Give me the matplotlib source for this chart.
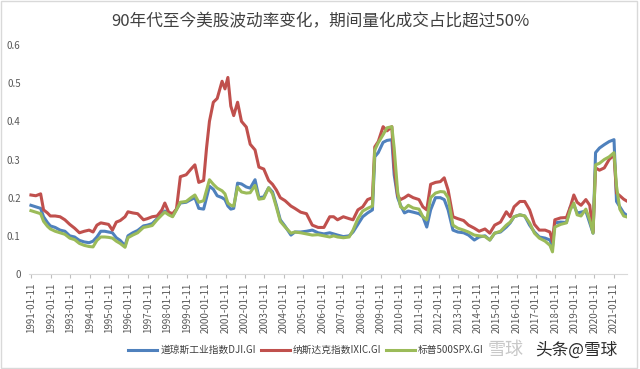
import matplotlib
matplotlib.use("Agg")
import matplotlib.pyplot as plt
from matplotlib.patches import Rectangle
import numpy as np

# decimal years
dates = [
    1991.00, 1991.25, 1991.50, 1991.65, 1991.85,
    1992.00, 1992.25, 1992.50, 1992.75, 1993.00, 1993.25, 1993.50, 1993.75,
    1994.00, 1994.20, 1994.40, 1994.60, 1994.80, 1995.00, 1995.20, 1995.40, 1995.60, 1995.85,
    1996.00, 1996.25, 1996.50, 1996.80, 1997.00, 1997.25, 1997.50, 1997.75, 1997.90,
    1998.10, 1998.30, 1998.50, 1998.70, 1999.00, 1999.25, 1999.45, 1999.65, 1999.90,
    2000.05, 2000.20, 2000.40, 2000.60, 2000.85, 2001.00, 2001.15, 2001.30, 2001.45, 2001.65, 2001.85,
    2002.10, 2002.30, 2002.55, 2002.75, 2003.00, 2003.25, 2003.45, 2003.65, 2003.85,
    2004.10, 2004.40, 2004.60, 2004.90, 2005.20, 2005.50, 2005.80,
    2006.10, 2006.40, 2006.60, 2006.80, 2007.10, 2007.40, 2007.60, 2007.85,
    2008.10, 2008.35, 2008.60, 2008.72, 2008.90, 2009.15, 2009.35, 2009.60, 2009.72, 2009.90,
    2010.05, 2010.25, 2010.45, 2010.70, 2011.00, 2011.20, 2011.40, 2011.60, 2011.85,
    2012.10, 2012.30, 2012.50, 2012.75, 2013.00, 2013.30, 2013.55, 2013.85,
    2014.10, 2014.40, 2014.65, 2014.90, 2015.20, 2015.50, 2015.70, 2015.90,
    2016.20, 2016.45, 2016.70, 2016.95, 2017.20, 2017.50, 2017.75, 2017.88,
    2018.00, 2018.30, 2018.60, 2018.80, 2018.98, 2019.15, 2019.35, 2019.60, 2019.80, 2019.97,
    2020.10, 2020.30, 2020.55, 2020.80, 2021.05, 2021.18, 2021.35, 2021.55, 2021.68,
]

dji = [
    .180, .176, .172, .150, .135,
    .126, .122, .115, .112, .100, .097, .088, .084,
    .082, .086, .097, .112, .112, .110, .108, .095, .088, .074,
    .100, .108, .114, .126, .128, .132, .145, .158, .165,
    .160, .152, .170, .186, .188, .195, .200, .172, .170,
    .200, .230, .222, .205, .200, .195, .178, .170, .172, .238, .236,
    .228, .225, .247, .200, .202, .226, .215, .180, .142,
    .125, .102, .110, .110, .112, .115, .108,
    .105, .108, .105, .102, .098, .100, .110, .130,
    .150, .160, .168, .307, .318, .345, .350, .352, .260, .200,
    .180, .160, .165, .162, .158, .150, .123, .168, .200,
    .200, .195, .168, .115, .110, .108, .102, .089,
    .097, .100, .089, .107, .110, .123, .134, .150,
    .155, .152, .128, .110, .097, .094, .089, .071,
    .134, .136, .135, .176, .180, .160, .162, .165, .134, .107,
    .318, .330, .339, .347, .352, .190, .176, .160, .155,
]

ixic = [
    .207, .205, .210, .168, .160,
    .152, .152, .150, .142, .130, .120, .108, .112,
    .115, .110, .128, .134, .132, .130, .115, .136, .140, .150,
    .163, .160, .158, .142, .145, .150, .152, .168, .186,
    .162, .158, .170, .255, .260, .275, .286, .240, .245,
    .330, .400, .450, .460, .505, .485, .515, .440, .415, .450, .400,
    .385, .340, .325, .280, .275, .245, .235, .220, .200,
    .192, .178, .172, .162, .158, .128, .122,
    .122, .150, .150, .142, .150, .145, .142, .168,
    .176, .195, .200, .333, .347, .386, .375, .386, .280, .205,
    .195, .200, .207, .200, .195, .176, .168, .235, .240,
    .242, .252, .220, .150, .145, .140, .128, .120,
    .112, .118, .107, .128, .136, .163, .150, .176,
    .190, .190, .168, .130, .115, .115, .110, .084,
    .142, .147, .148, .176, .207, .188, .180, .195, .180, .110,
    .278, .272, .278, .300, .312, .212, .205, .196, .192,
]

spx = [
    .166, .162, .158, .138, .125,
    .118, .112, .108, .104, .094, .090, .080, .075,
    .072, .071, .088, .097, .097, .096, .094, .086, .080, .070,
    .095, .102, .108, .122, .124, .127, .142, .155, .162,
    .155, .150, .168, .188, .190, .200, .207, .188, .192,
    .220, .247, .235, .225, .218, .210, .186, .180, .178, .228, .215,
    .212, .213, .232, .196, .198, .226, .210, .175, .138,
    .123, .107, .110, .108, .105, .102, .103,
    .100, .097, .100, .097, .095, .097, .115, .145,
    .165, .172, .178, .325, .344, .365, .383, .386, .330, .215,
    .176, .170, .180, .173, .170, .150, .142, .200, .212,
    .216, .215, .200, .128, .120, .115, .110, .102,
    .100, .098, .089, .107, .112, .128, .136, .150,
    .155, .152, .134, .107, .094, .086, .075, .058,
    .123, .130, .134, .168, .186, .155, .152, .170, .142, .107,
    .286, .290, .300, .307, .318, .230, .170, .152, .150,
]

names = ["道琼斯工业指数DJI.GI", "纳斯达克指数IXIC.GI", "标普500SPX.GI"]
colors = ["#4F81BD", "#C0504D", "#9BBB59"]
years = list(range(1991, 2022))
tick_labels = [f"{y}-01-11" for y in years]
title = "90年代至今美股波动率变化，期间量化成交占比超过50%"

plt.rcParams["font.family"] = ["Noto Sans CJK SC", "DejaVu Sans"]

fig = plt.figure(figsize=(6.4, 3.69), dpi=100)
ax = fig.add_axes([29 / 640, 1 - 274 / 369, (627 - 29) / 640, (274 - 45) / 369])

for series, name, c in zip([dji, ixic, spx], names, colors):
    ax.plot(dates, series, color=c, lw=2.2, label=name, solid_joinstyle="round")

ax.set_xlim(1990.9, 2021.72)
ax.set_ylim(0, 0.6)
yt = np.round(np.arange(0, 0.61, 0.1), 1)
ax.set_yticks(yt)
ax.set_yticklabels(["0"] + [f"{v:.1f}" for v in yt[1:]])
ax.set_xticks([y + 10 / 365 for y in years])
ax.set_xticklabels(tick_labels, rotation=90)

for s in ["top", "right", "left"]:
    ax.spines[s].set_visible(False)
ax.spines["bottom"].set_color("#d9d9d9")
ax.tick_params(axis="y", length=0, pad=6, labelsize=7, labelcolor="#595959")
ax.tick_params(axis="x", length=3, color="#bfbfbf", labelsize=7,
               labelcolor="#595959", pad=3)

fig.text(0.5, 1 - 22 / 369, title, ha="center", va="center",
         fontsize=12, color="#404040")

fig.legend(loc="center", bbox_to_anchor=(306 / 640, 1 - 350 / 369), ncol=3,
           frameon=False, fontsize=7, handlelength=3.0, handletextpad=0.3,
           columnspacing=0.5, labelcolor="#404040")

# watermark
fig.text(488 / 640, 1 - 350 / 369, "雪球", ha="left", va="center",
         fontsize=13, color="#c8c8c8")
fig.text(535 / 640, 1 - 350 / 369, "头条@雪球", ha="left", va="center",
         fontsize=12, color="#2b2b2b")

fig.patches.append(Rectangle((0.002, 0.003), 0.994, 0.994, transform=fig.transFigure,
                             fill=False, edgecolor="#d9d9d9", lw=1))

fig.savefig("out.png", dpi=100)
